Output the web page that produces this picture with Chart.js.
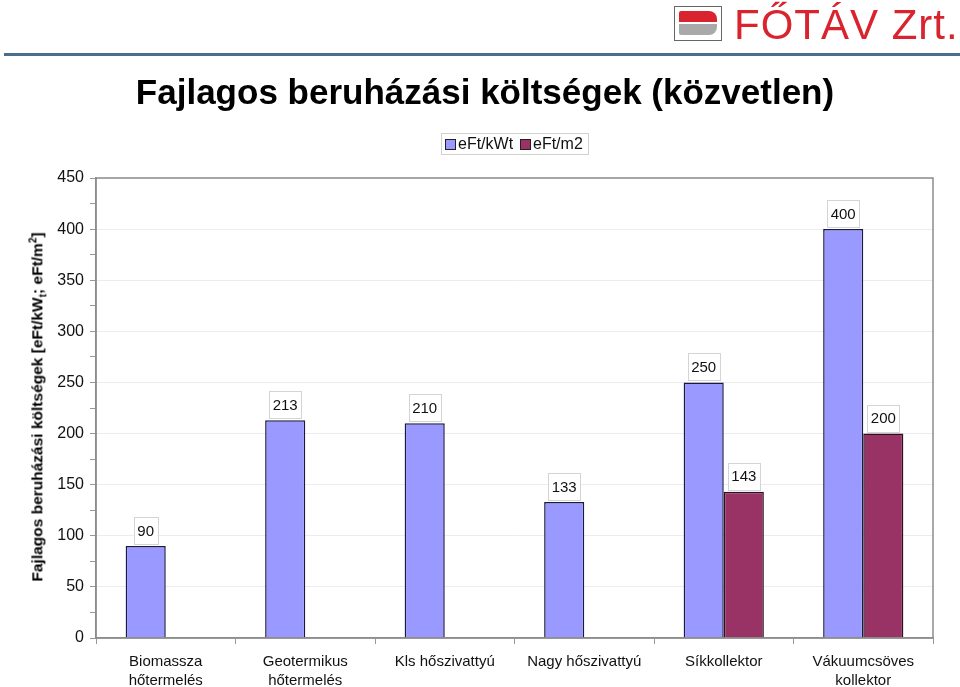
<!DOCTYPE html>
<html>
<head>
<meta charset="utf-8">
<script src="https://cdn.jsdelivr.net/npm/chart.js@4"></script>
<style>
  body { margin: 0; background: #fff; font-family: Arial, "Liberation Sans", sans-serif; }
  #wrap { position: relative; width: 960px; height: 687px; overflow: hidden; }
  #chart { position: absolute; left: 0; top: 0; }
  .hdrline { position: absolute; left: 4px; right: 0; top: 53px; height: 3px; background: #4a6f8a; }
  .logo-icon { position: absolute; left: 674px; top: 6px; width: 46px; height: 33px; border: 1px solid #666; background: #fff; overflow: hidden; }
  .logo-icon .r { position: absolute; left: 4px; top: 4px; width: 38px; height: 11px; background: #d9232e; border-radius: 2px 8px 0 0; }
  .logo-icon .g { position: absolute; left: 4px; top: 17px; width: 38px; height: 11px; background: #a9a9a9; border-radius: 0 0 8px 2px; }
  .logo-text { position: absolute; left: 734px; top: 1px; font-size: 42px; color: #d9232e; letter-spacing: 1px; white-space: nowrap; }
  .title { position: absolute; left: 0; width: 970px; top: 72px; text-align: center; font-size: 35px; font-weight: bold; color: #000; }
  .legend { position: absolute; left: 441px; top: 133px; width: 146px; height: 20px; border: 1px solid #d0d0d0; font-size: 16px; color: #111; }
  .legend span.sw { position: absolute; top: 5px; width: 9px; height: 9px; border: 1px solid #222; }
  .legend span.tx { position: absolute; top: 1px; }
  .ytitle { position: absolute; left: 38px; top: 407px; transform: translate(-50%, -50%) rotate(-90deg); font-size: 15.5px; font-weight: bold; white-space: nowrap; color: #000; }
  .ytitle sub, .ytitle sup { font-size: 10px; }
</style>
</head>
<body>
<div id="wrap">
  <canvas id="chart" width="960" height="687"></canvas>
  <div class="hdrline"></div>
  <div class="logo-icon"><div class="r"></div><div class="g"></div></div>
  <div class="logo-text">FŐTÁV Zrt.</div>
  <div class="title">Fajlagos beruházási költségek (közvetlen)</div>
  <div class="legend">
    <span class="sw" style="left:3px;background:#9999ff"></span><span class="tx" style="left:16px">eFt/kWt</span>
    <span class="sw" style="left:78px;background:#993366"></span><span class="tx" style="left:91px">eFt/m2</span>
  </div>
  <div class="ytitle">Fajlagos beruházási költségek [eFt/kW<sub>t</sub>; eFt/m<sup>2</sup>]</div>
</div>
<script>
const categories = [
  ["Biomassza", "hőtermelés"],
  ["Geotermikus", "hőtermelés"],
  "Kls hőszivattyú",
  "Nagy hőszivattyú",
  "Síkkollektor",
  ["Vákuumcsöves", "kollektor"],
];
const seriesNames = ["eFt/kWt", "eFt/m2"];
const perKw = [90, 213, 210, 133, 250, 400];
const perM2 = [null, null, null, null, 143, 200];

const ctx = document.getElementById("chart").getContext("2d");

// érték címkék dobozban az oszlopok felett
const valueLabels = {
  id: "valueLabels",
  afterDatasetsDraw(chart) {
    const c = chart.ctx;
    c.save();
    c.font = "15px Arial, 'Liberation Sans', sans-serif";
    c.textAlign = "center";
    c.textBaseline = "middle";
    chart.data.datasets.forEach((ds, i) => {
      const meta = chart.getDatasetMeta(i);
      meta.data.forEach((bar, j) => {
        const v = ds.data[j];
        if (v === null || v === undefined) return;
        const txt = String(v);
        const w = c.measureText(txt).width + 7;
        const h = 27;
        const x = bar.x - w / 2;
        const y = bar.y - h - 2;
        c.fillStyle = "#fff";
        c.fillRect(x, y, w, h);
        c.strokeStyle = "#d4d4d4";
        c.lineWidth = 1;
        c.strokeRect(Math.round(x) + 0.5, Math.round(y) + 0.5, Math.round(w), h);
        c.fillStyle = "#111";
        c.fillText(txt, bar.x, y + h / 2 + 1);
      });
    });
    c.restore();
  },
};

// keret a rajzterület körül
const plotFrame = {
  id: "plotFrame",
  afterDraw(chart) {
    const a = chart.chartArea;
    const c = chart.ctx;
    c.save();
    c.strokeStyle = "#8c8c8c";
    c.lineWidth = 1.5;
    c.strokeRect(a.left, a.top, a.right - a.left, a.bottom - a.top);
    c.restore();
  },
};

let myChart = new Chart(ctx, {
  type: "bar",
  data: {
    labels: categories,
    datasets: [
      {
        label: seriesNames[0],
        data: perKw,
        backgroundColor: "#9999ff",
        borderColor: "#1a1a40",
        borderWidth: 1.5,
      },
      {
        label: seriesNames[1],
        data: perM2,
        backgroundColor: "#993366",
        borderColor: "#2a1020",
        borderWidth: 1.5,
      },
    ],
  },
  options: {
    responsive: false,
    animation: false,
    layout: { padding: { left: 0, top: 178, right: 27, bottom: 0 } },
    datasets: { bar: { barPercentage: 1, categoryPercentage: 0.575 } },
    plugins: {
      legend: { display: false },
      tooltip: { enabled: false },
    },
    scales: {
      x: {
        afterFit: (s) => { s.height = 49; },
        grid: {
          offset: true,
          drawOnChartArea: false,
          tickLength: 6,
          tickColor: "#999",
        },
        border: { color: "#8c8c8c", width: 1.5 },
        ticks: {
          color: "#111",
          font: { size: 15, lineHeight: 1.27, family: "Arial, 'Liberation Sans', sans-serif" },
          padding: 8,
          maxRotation: 0,
          autoSkip: false,
        },
      },
      y: {
        min: 0,
        max: 450,
        afterFit: (s) => { s.width = 96; },
        ticks: {
          stepSize: 25,
          color: "#111",
          font: { size: 16, family: "Arial, 'Liberation Sans', sans-serif" },
          padding: 6,
          callback: (v) => (v % 50 === 0 ? v : ""),
        },
        grid: {
          color: (c) => (c.tick && c.tick.value % 50 === 0 ? "#ececec" : "rgba(0,0,0,0)"),
          tickColor: "#999",
          tickLength: 6,
        },
        border: { color: "#8c8c8c", width: 1.5 },
      },
    },
  },
  plugins: [valueLabels, plotFrame],
});
</script>
</body>
</html>
